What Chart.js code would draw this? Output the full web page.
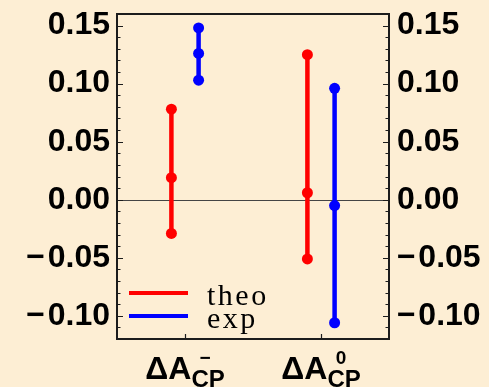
<!DOCTYPE html>
<html>
<head>
<meta charset="utf-8">
<script src="https://cdn.jsdelivr.net/npm/chart.js@4.4.0/dist/chart.umd.min.js"></script>
<style>
  html, body { margin: 0; padding: 0; background: #fdeed4; }
  canvas { display: block; }
</style>
</head>
<body>
<canvas id="myChart" width="489" height="387"></canvas>
<script>
// kategorier: position på x-axeln och etikettens delar
const catPos = [1, 2];
const catSup = ['\u2212', '0'];
const catSub = ['CP', 'CP'];

// teoretiska värden (röd)
const theoLow = [-0.029, -0.051];
const theoMid = [0.019, 0.006];
const theoHigh = [0.078, 0.125];

// experimentella värden (blå)
const expLow = [0.103, -0.106];
const expMid = [0.126, -0.005];
const expHigh = [0.148, 0.096];

const yTicks = [-0.10, -0.05, 0, 0.05, 0.10, 0.15];

const frameColor = '#1c1c1c';

// bygger ett dataset per felstapel
function makeBars(low, mid, high, offset, color, label) {
  return catPos.map((x, i) => ({
    label: label,
    data: [
      { x: x + offset, y: low[i] },
      { x: x + offset, y: mid[i] },
      { x: x + offset, y: high[i] }
    ],
    showLine: true,
    borderColor: color,
    backgroundColor: color,
    borderWidth: 4.5,
    pointRadius: 5.5,
    pointBorderWidth: 0,
    pointHoverRadius: 5.5
  }));
}

const datasets = [
  ...makeBars(theoLow, theoMid, theoHigh, -0.1, '#ff0000', 'theo'),
  ...makeBars(expLow, expMid, expHigh, 0.1, '#0000ff', 'exp')
];

const fmt = v => (v < 0 ? '\u2212\u200A' : '') + Math.abs(v).toFixed(2);

const framePlugin = {
  id: 'frame',
  beforeDatasetsDraw(chart) {
    const ctx = chart.ctx;
    const a = chart.chartArea;
    const y = chart.scales.y;
    const x = chart.scales.x;
    ctx.save();
    // nollinje
    ctx.strokeStyle = '#444';
    ctx.lineWidth = 1;
    const y0 = Math.round(y.getPixelForValue(0)) + 0.5;
    ctx.beginPath();
    ctx.moveTo(a.left, y0);
    ctx.lineTo(a.right, y0);
    ctx.stroke();
    // ticks inåt på vänster och höger sida
    ctx.strokeStyle = frameColor;
    ctx.lineWidth = 1.2;
    for (let k = -12; k <= 16; k++) {
      const py = Math.round(y.getPixelForValue(k / 100)) + 0.5;
      const len = (k % 5 === 0) ? 6 : 3.5;
      ctx.beginPath();
      ctx.moveTo(a.left, py);
      ctx.lineTo(a.left + len, py);
      ctx.moveTo(a.right, py);
      ctx.lineTo(a.right - len, py);
      ctx.stroke();
    }
    catPos.forEach(c => {
      const px = Math.round(x.getPixelForValue(c)) + 0.5;
      ctx.beginPath();
      ctx.moveTo(px, a.bottom);
      ctx.lineTo(px, a.bottom - 5);
      ctx.stroke();
    });
    // ram
    ctx.lineWidth = 2;
    ctx.strokeRect(a.left, a.top, a.right - a.left, a.bottom - a.top);
    ctx.restore();
  },
  afterDraw(chart) {
    const ctx = chart.ctx;
    const a = chart.chartArea;
    const x = chart.scales.x;
    ctx.save();
    ctx.fillStyle = '#000';
    ctx.textBaseline = 'alphabetic';
    // x-etiketter med upphöjt och nedsänkt
    catPos.forEach((c, i) => {
      const mainFont = 'bold 32px "Liberation Sans", Arial, sans-serif';
      const supFont = 'bold 19px "Liberation Sans", Arial, sans-serif';
      const subFont = 'bold 24px "Liberation Sans", Arial, sans-serif';
      ctx.font = mainFont;
      const wMain = ctx.measureText('\u0394A').width;
      ctx.font = subFont;
      const wSub = ctx.measureText(catSub[i]).width;
      const total = wMain + wSub;
      const left = x.getPixelForValue(c) - total / 2;
      ctx.font = mainFont;
      ctx.textAlign = 'left';
      ctx.fillText('\u0394A', left, 379);
      ctx.font = subFont;
      ctx.fillText(catSub[i], left + wMain, 387);
      ctx.font = supFont;
      ctx.textAlign = 'center';
      ctx.fillText(catSup[i], left + wMain + wSub / 2 - 3, 364);
    });
    // förklaring
    const items = [['theo', '#ff0000'], ['exp', '#0000ff']];
    ctx.font = '30px "Liberation Serif", "Times New Roman", serif';
    ctx.letterSpacing = '2.5px';
    ctx.textAlign = 'left';
    items.forEach((it, i) => {
      const ly = a.bottom - 46 + i * 23;
      ctx.strokeStyle = it[1];
      ctx.lineWidth = 4;
      ctx.beginPath();
      ctx.moveTo(a.left + 12, ly);
      ctx.lineTo(a.left + 71, ly);
      ctx.stroke();
      ctx.fillStyle = '#000';
      ctx.fillText(it[0], a.left + 90, ly + 12);
    });
    ctx.restore();
  }
};

const tickFont = { family: '"Liberation Sans", Arial, sans-serif', size: 32, weight: 'bold' };

new Chart(document.getElementById('myChart'), {
  type: 'scatter',
  data: { datasets: datasets },
  options: {
    responsive: false,
    animation: false,
    layout: { padding: { top: 14, left: 0, right: 0, bottom: 0 } },
    plugins: { legend: { display: false }, tooltip: { enabled: false } },
    scales: {
      x: {
        type: 'linear', min: 0.5, max: 2.5,
        grid: { display: false }, border: { display: false },
        ticks: { display: false },
        afterFit: s => { s.height = 48; s.paddingLeft = 0; s.paddingRight = 0; }
      },
      y: {
        min: -0.12, max: 0.16, position: 'left',
        grid: { display: false, drawTicks: false }, border: { display: false },
        afterBuildTicks: s => { s.ticks = yTicks.map(v => ({ value: v })); },
        ticks: { color: '#000', font: tickFont, padding: 7, callback: fmt },
        afterFit: s => { s.width = 117; s.paddingTop = 0; s.paddingBottom = 0; }
      },
      y2: {
        min: -0.12, max: 0.16, position: 'right',
        grid: { display: false, drawTicks: false }, border: { display: false },
        afterBuildTicks: s => { s.ticks = yTicks.map(v => ({ value: v })); },
        ticks: { color: '#000', font: tickFont, padding: 8, callback: fmt },
        afterFit: s => { s.width = 100; s.paddingTop = 0; s.paddingBottom = 0; }
      }
    }
  },
  plugins: [framePlugin]
});
</script>
</body>
</html>
